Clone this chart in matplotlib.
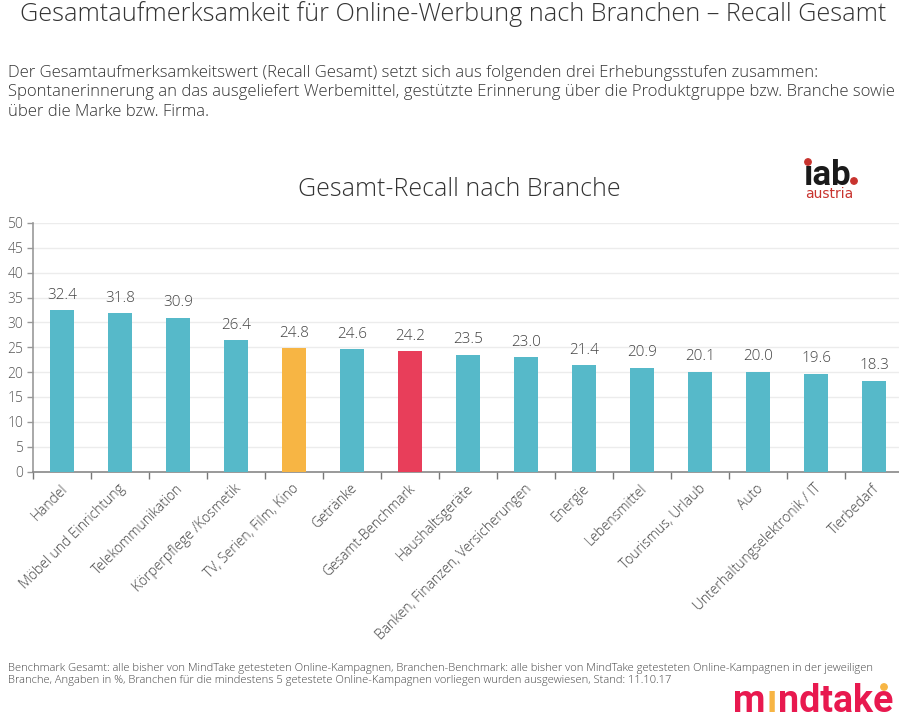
import matplotlib
matplotlib.use('Agg')
import matplotlib.pyplot as plt
from matplotlib.patches import Ellipse

plt.rcParams['font.family'] = ['Open Sans', 'DejaVu Sans']
plt.rcParams['font.weight'] = 'light'

# data
branchen = ["Handel", "Möbel und Einrichtung", "Telekommunikation", "Körperpflege /Kosmetik",
            "TV, Serien, Film, Kino", "Getränke", "Gesamt-Benchmark", "Haushaltsgeräte",
            "Banken, Finanzen, Versicherungen", "Energie", "Lebensmittel", "Tourismus, Urlaub",
            "Auto", "Unterhaltungselektronik / IT", "Tierbedarf"]
recall = [32.4, 31.8, 30.9, 26.4, 24.8, 24.6, 24.2, 23.5, 23.0, 21.4, 20.9, 20.1, 20.0, 19.6, 18.3]
farben = ["#56b9c9"] * 15
farben[4] = "#f7b544"
farben[6] = "#e83e5a"
y_ticks = list(range(0, 55, 5))

W, H = 899, 719
fig = plt.figure(figsize=(W / 100, H / 100), dpi=100)
ax = fig.add_axes([33 / W, 1 - 471.5 / H, (W - 33) / W, 248.5 / H])

x = list(range(len(branchen)))
ax.bar(x, recall, width=0.41, color=farben, zorder=3)
ax.set_xlim(-0.5, -0.5 + (W - 33) / 58)
ax.set_ylim(0, 50)
ax.set_yticks(y_ticks)
ax.set_xticks([i - 0.5 for i in x])
ax.set_xticklabels([])
ax.tick_params(axis='y', length=4, width=1, color='#999999', labelcolor='#555555', labelsize=10, pad=3)
ax.tick_params(axis='x', length=5, width=1, color='#777777')
ax.grid(axis='y', color='#ececec', linewidth=1, zorder=0)
ax.set_axisbelow(True)
for s in ['top', 'right']:
    ax.spines[s].set_visible(False)
ax.spines['left'].set_color('#999999')
ax.spines['bottom'].set_color('#888888')
ax.spines['left'].set_linewidth(1.2)
ax.spines['bottom'].set_linewidth(1.2)

for i, v in zip(x, recall):
    ax.annotate(f"{v:.1f}", (i, v), xytext=(0, 5.5), textcoords='offset points', ha='center', va='bottom',
                fontsize=11, color='#444444', zorder=4)
    ax.annotate(branchen[i], (i, 0), xytext=(-1.5, -7), textcoords='offset points', rotation=45,
                rotation_mode='anchor', ha='right', va='top', fontsize=10, color='#444444',
                annotation_clip=False)


def txt(px, py, s, **kw):
    return fig.text(px / W, 1 - py / H, s, **kw)


txt(453, 14, "Gesamtaufmerksamkeit für Online-Werbung nach Branchen – Recall Gesamt", ha='center', va='center',
    fontsize=18.2, color='#333333')
intro = ["Der Gesamtaufmerksamkeitswert (Recall Gesamt) setzt sich aus folgenden drei Erhebungsstufen zusammen:",
         "Spontanerinnerung an das ausgeliefert Werbemittel, gestützte Erinnerung über die Produktgruppe bzw. Branche sowie",
         "über die Marke bzw. Firma."]
for py, zeile in zip([73, 92, 112], intro):
    txt(8, py, zeile, ha='left', va='center', fontsize=12, color='#333333')
txt(459, 189, "Gesamt-Recall nach Branche", ha='center', va='center', fontsize=18, color='#333333')
fuss = ["Benchmark Gesamt: alle bisher von MindTake getesteten Online-Kampagnen, Branchen-Benchmark: alle bisher von MindTake getesteten Online-Kampagnen in der jeweiligen",
        "Branche, Angaben in %, Branchen für die mindestens 5 getestete Online-Kampagnen vorliegen wurden ausgewiesen, Stand: 11.10.17"]
for py, zeile in zip([668, 681], fuss):
    txt(8, py, zeile, ha='left', va='center', fontsize=8, color='#444444')

# logos
txt(804, 185, "\u0131ab", ha='left', va='baseline', fontsize=25, fontweight='bold', color='#1a1a1a', family='Roboto')
txt(805, 198, "austria", ha='left', va='baseline', fontsize=10, fontweight='normal', color='#c8332e', family='DejaVu Sans')
for cx, cy, r, c in [(808, 162, 3.2, '#c8332e'), (854, 181, 3.2, '#c8332e'), (884, 687, 3.2, '#f7b544')]:
    fig.add_artist(Ellipse((cx / W, 1 - cy / H), 2 * r / W, 2 * r / H, color=c, transform=fig.transFigure))

renderer = fig.canvas.get_renderer()
pos = 733
for teil, c in [("m", '#e8194f'), ("\u0131", '#f7b544'), ("ndtake", '#e8194f')]:
    t = txt(pos, 712, teil, ha='left', va='baseline', fontsize=27, fontweight='bold', color=c, family='Roboto')
    pos += t.get_window_extent(renderer).width + 1

fig.savefig('out.png', dpi=100)
